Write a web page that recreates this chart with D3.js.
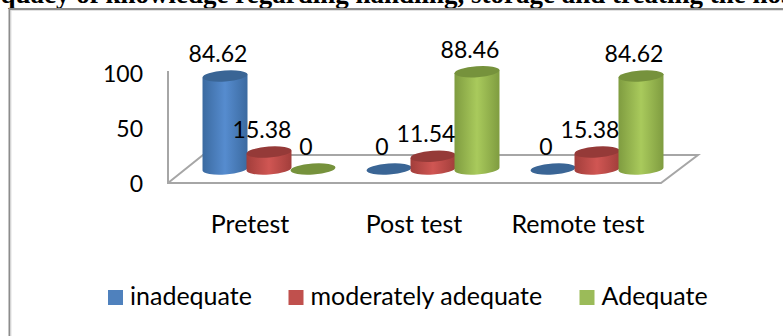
<!DOCTYPE html>
<html>
<head>
<meta charset="utf-8">
<style>
  html, body { margin: 0; padding: 0; background: #fff; overflow: hidden; }
  svg { display: block; }
  text { font-family: Lato, "Open Sans", sans-serif; fill: #000; }
</style>
</head>
<body>
<svg id="chart" width="783" height="336"></svg>
<script src="https://cdn.jsdelivr.net/npm/d3@7"></script>
<script>
// Data
const categories = ['Pretest', 'Post test', 'Remote test'];
const seriesNames = ['inadequate', 'moderately adequate', 'Adequate'];
const inadequate = [84.62, 0, 0];
const moderatelyAdequate = [15.38, 11.54, 15.38];
const adequate = [0, 88.46, 84.62];
const yTicks = [0, 50, 100];
const titleText = 'Adequacy of knowledge regarding handling, storage and treating the hospital waste';

const seriesValues = [inadequate, moderatelyAdequate, adequate];

// Colors per series: edge of the cylinder, middle of the cylinder, top cap
const colors = [
  {edge: '#3b6aa0', mid: '#568ccf', cap: '#3a6595', legend: '#4f81bd'},
  {edge: '#a23e3b', mid: '#d05653', cap: '#953a38', legend: '#c0504d'},
  {edge: '#7f9c40', mid: '#a9ca5c', cap: '#76923c', legend: '#9bbb59'}
];

const svg = d3.select('#chart');

// Scales
const x0 = d3.scaleBand().domain(categories).range([187, 679]);
const x1 = d3.scaleBand().domain(d3.range(3)).range([0, x0.bandwidth()]).paddingInner(0).paddingOuter(0.364);
const yWall = d3.scaleLinear().domain([0, 100]).range([183, 73]);
const depth = 14; // floor centre of the bars sits behind the front edge
const yBar = v => yWall(v) - depth;

// Gradients
const defs = svg.append('defs');
colors.forEach((c, i) => {
  const g = defs.append('linearGradient').attr('id', 'cyl' + i);
  g.append('stop').attr('offset', '0%').attr('stop-color', c.edge);
  g.append('stop').attr('offset', '50%').attr('stop-color', c.mid);
  g.append('stop').attr('offset', '100%').attr('stop-color', c.edge);
});

// Title, cut by the top of the window
svg.append('text')
  .attr('x', -46).attr('y', 3)
  .style('font-family', '"Liberation Serif", serif')
  .style('font-weight', 'bold')
  .style('font-size', '27px')
  .text(titleText);

// Frame of the chart area: only top and left are visible
svg.append('path')
  .attr('d', 'M9.5,336V9H783')
  .attr('fill', 'none').attr('stroke', '#8c8c8c').attr('stroke-width', 2);
svg.append('path')
  .attr('d', 'M11,336V10.5H783')
  .attr('fill', 'none').attr('stroke', '#e2e2e2').attr('stroke-width', 1);

// Floor and wall
const wallX = 168;
svg.append('path')
  .attr('d', `M${wallX},${yWall(100) - 2}V${yWall(0)}H661L698,155H203L${wallX},${yWall(0)}`)
  .attr('fill', '#fff').attr('stroke', '#a6a6a6').attr('stroke-width', 2);

// Y tick labels
svg.selectAll('.ytick').data(yTicks).join('text')
  .attr('class', 'ytick')
  .attr('x', 143)
  .attr('y', d => yWall(d) + 9)
  .attr('text-anchor', 'end')
  .style('font-size', '23px')
  .text(d => d);

// Cylinders
const tilt = -4;
const ry = 5.5;
const rows = [];
categories.forEach((cat, ci) => {
  seriesValues.forEach((vals, si) => {
    rows.push({cat, si, value: vals[ci]});
  });
});

const cx = d => x0(d.cat) + x1(d.si) + x1.bandwidth() / 2;
const rx = x1.bandwidth() / 2 + 0.5;
const lean = rx * Math.sin(-tilt * Math.PI / 180);

const bars = svg.selectAll('.bar').data(rows).join('g').attr('class', 'bar');

bars.filter(d => d.value > 0).append('path')
  .attr('fill', d => `url(#cyl${d.si})`)
  .attr('d', d => {
    const c = cx(d), top = yBar(d.value), base = yBar(0);
    return `M${c - rx},${top + lean}L${c - rx},${base + lean}` +
      `A${rx},${ry} ${tilt} 0 0 ${c + rx},${base - lean}` +
      `L${c + rx},${top - lean}Z`;
  });

bars.append('ellipse')
  .attr('rx', rx).attr('ry', ry)
  .attr('fill', d => colors[d.si].cap)
  .attr('transform', d => `translate(${cx(d)},${yBar(d.value)}) rotate(${tilt})`);

// Value labels
svg.selectAll('.value').data(rows).join('text')
  .attr('class', 'value')
  .attr('x', d => cx(d) - 7)
  .attr('y', d => yBar(d.value) - 14)
  .attr('text-anchor', 'middle')
  .style('font-size', '23px')
  .text(d => d.value);

// Category labels
svg.selectAll('.cat').data(categories).join('text')
  .attr('class', 'cat')
  .attr('x', d => x0(d) + x0.bandwidth() / 2 - 19)
  .attr('y', 233)
  .attr('text-anchor', 'middle')
  .style('font-size', '25px')
  .text(d => d);

// Legend
const legendX = [108, 288.5, 579.5];
const legend = svg.selectAll('.legend').data(seriesNames).join('g')
  .attr('class', 'legend')
  .attr('transform', (d, i) => `translate(${legendX[i]},290)`);
legend.append('rect')
  .attr('width', 15).attr('height', 15)
  .attr('fill', (d, i) => colors[i].legend);
legend.append('text')
  .attr('x', 22).attr('y', 15)
  .style('font-size', '25px')
  .text(d => d);
</script>
</body>
</html>
